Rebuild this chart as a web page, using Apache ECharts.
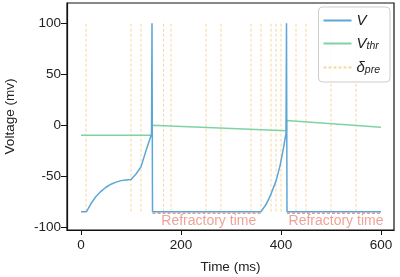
<!DOCTYPE html>
<html>
<head>
<meta charset="utf-8">
<script src="https://cdn.jsdelivr.net/npm/echarts@6/dist/echarts.min.js"></script>
<style>
  html, body { margin: 0; padding: 0; background: #fff; }
  #chart { width: 400px; height: 277px; }
</style>
</head>
<body>
<div id="chart"></div>
<script>
// membrane potential trace (time ms, mV)
const vTrace = [
  [0, -85], [11, -85], [20, -77], [30, -70], [40, -65], [50, -61], [60, -58],
  [70, -56], [80, -54.5], [90, -53.8], [100, -53.3], [110, -48], [120, -41],
  [130, -25], [141, -9], [142, 100], [143, -85],
  [360, -85], [370, -78], [378, -70], [390, -55], [398, -40], [404, -25],
  [410, -8], [411, 100], [412, -85], [600, -85]
];
// adaptive threshold
const thrTrace = [[0, -10], [142, -10], [142, 0], [411, -5.5], [411, 4.5], [600, -2]];
// presynaptic spike times
const preSpikes = [10, 100, 120, 165, 180, 250, 280, 340, 360, 380, 390, 400, 430, 450, 500, 550];
// refractory windows
const refractory = [[143, 360], [412, 600]];
const xTicks = [0, 200, 400, 600];
const yTicks = [-100, -50, 0, 50, 100];

const font = 'Liberation Sans, Arial, sans-serif';

const preData = [];
preSpikes.forEach(t => { preData.push([t, -85], [t, 100], [t, '-']); });

const refData = [];
refractory.forEach(r => { refData.push([r[0], -86.5], [r[1], -86.5], [r[1], '-']); });

const refLabels = refractory.map(r => ({
  value: [(r[0] + r[1]) / 2 + 4, -94],
  label: { show: true, formatter: 'Refractory time' }
}));

const chart = echarts.init(document.getElementById('chart'));
chart.setOption({
  animation: false,
  grid: {
    left: 67, right: 6, top: 3, bottom: 47,
    outerBoundsMode: 'none', containLabel: false,
    show: true, borderColor: '#111', borderWidth: 1.2
  },
  legend: {
    right: 10, top: 7,
    orient: 'vertical',
    itemWidth: 28, itemHeight: 10, itemGap: 8,
    padding: [6, 10, 6, 4],
    borderColor: '#ccc', borderWidth: 1, borderRadius: 4,
    backgroundColor: 'rgba(255,255,255,0.85)',
    itemStyle: { opacity: 0 },
    data: ['V', 'Vthr', 'dpre'],
    formatter: function (n) {
      if (n === 'V') return '{m|V}';
      if (n === 'Vthr') return '{m|V}{s|thr}';
      return '{m|δ}{s|pre}';
    },
    textStyle: {
      rich: {
        m: { fontFamily: font, fontStyle: 'italic', fontSize: 15, color: '#222' },
        s: { fontFamily: font, fontStyle: 'italic', fontSize: 10.5, color: '#222', verticalAlign: 'bottom', padding: [6, 0, 0, 0] }
      }
    }
  },
  xAxis: {
    type: 'value', min: -28, max: 626,
    name: 'Time (ms)', nameLocation: 'middle', nameGap: 30,
    nameTextStyle: { fontFamily: font, fontSize: 13.5, color: '#222' },
    splitLine: { show: false },
    axisLine: { show: true, onZero: false, lineStyle: { color: '#111', width: 1.2 } },
    axisTick: { show: true, length: 5, lineStyle: { color: '#111' }, customValues: xTicks },
    axisLabel: { fontFamily: font, fontSize: 13.5, color: '#222', margin: 8, customValues: xTicks }
  },
  yAxis: {
    type: 'value', min: -103, max: 120,
    name: 'Voltage (mv)', nameLocation: 'middle', nameGap: 50, nameRotate: 90,
    nameTextStyle: { fontFamily: font, fontSize: 13.5, color: '#222' },
    splitLine: { show: false },
    axisLine: { show: true, onZero: false, lineStyle: { color: '#111', width: 1.2 } },
    axisTick: { show: true, length: 6, lineStyle: { color: '#111' }, customValues: yTicks },
    axisLabel: { fontFamily: font, fontSize: 13.5, color: '#222', margin: 6, customValues: yTicks }
  },
  series: [
    {
      name: 'dpre', type: 'line', data: preData, symbol: 'none', connectNulls: false,
      lineStyle: { color: '#f3cd8a', width: 1, type: [3, 2], opacity: 0.8 },
      itemStyle: { color: '#f3cd8a' }, z: 1
    },
    {
      name: 'refr', type: 'line', data: refData, symbol: 'none', connectNulls: false,
      lineStyle: { color: '#ea9a90', width: 1.5, type: [3, 2] }, z: 2
    },
    {
      name: 'V', type: 'line', data: vTrace, symbol: 'none',
      lineStyle: { color: '#5ca6d6', width: 1.5 }, itemStyle: { color: '#5ca6d6' }, z: 4
    },
    {
      name: 'Vthr', type: 'line', data: thrTrace, symbol: 'none',
      lineStyle: { color: '#7fd3a2', width: 1.5 }, itemStyle: { color: '#7fd3a2' }, z: 3
    },
    {
      name: 'reftext', type: 'scatter', data: refLabels, symbolSize: 0, z: 5,
      label: { position: 'inside', fontFamily: font, fontSize: 14, color: '#e98c80' }
    }
  ]
});
</script>
</body>
</html>
